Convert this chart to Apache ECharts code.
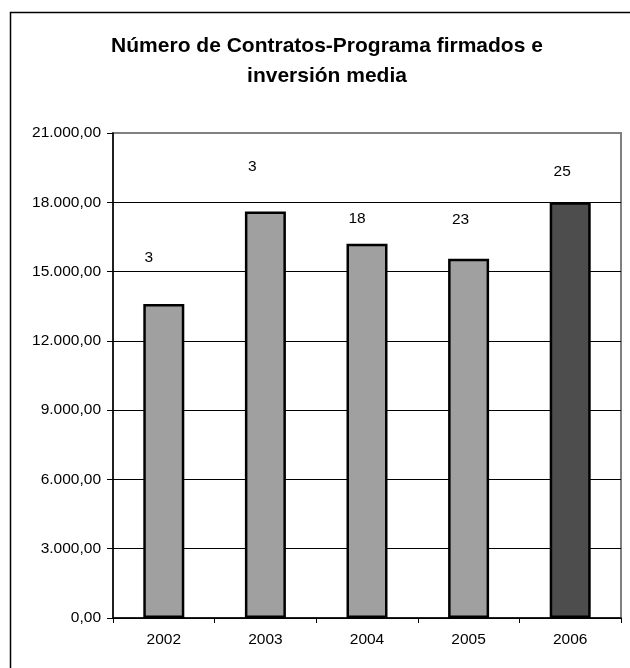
<!DOCTYPE html>
<html>
<head>
<meta charset="utf-8">
<script src="https://cdn.jsdelivr.net/npm/echarts@6/dist/echarts.min.js"></script>
<style>
html,body{margin:0;padding:0;background:#fff;}
#c{width:630px;height:668px;}
</style>
</head>
<body>
<div id="c"></div>
<script>
var years = ['2002', '2003', '2004', '2005', '2006'];
var inversionMedia = [13600, 17600, 16200, 15550, 18000];
var numContratos = [3, 3, 18, 23, 25];
var yTicks = [0, 3000, 6000, 9000, 12000, 15000, 18000, 21000];

var labelOffsets = [[-15, -33], [-13, -32], [-10, -12], [-8, -26], [-8, -18]];
var fills = ['#a0a0a0', '#a0a0a0', '#a0a0a0', '#a0a0a0', '#4d4d4d'];

function fmtEs(v) {
  var s = Math.round(v).toString().replace(/\B(?=(\d{3})+(?!\d))/g, '.');
  return s + ',00';
}

var FONT = '"Liberation Sans", Arial, sans-serif';
var FS = 15.5;
var chart = echarts.init(document.getElementById('c'), null, {renderer: 'canvas'});

var barData = inversionMedia.map(function (v, i) {
  return {
    value: v,
    itemStyle: {color: fills[i]},
    label: {offset: labelOffsets[i]}
  };
});

chart.setOption({
  backgroundColor: '#fff',
  animation: false,
  textStyle: {fontFamily: FONT},
  title: {
    text: 'Número de Contratos-Programa firmados e\ninversión media',
    left: 322,
    top: 26,
    textAlign: 'center',
    textStyle: {fontFamily: FONT, fontSize: 21, fontWeight: 'bold', color: '#000', lineHeight: 30}
  },
  graphic: [{
    type: 'rect',
    shape: {x: 10.5, y: 12.5, width: 700, height: 700},
    style: {fill: 'none', stroke: '#000', lineWidth: 1.5},
    silent: true,
    z: -10
  }],
  grid: {
    left: 113, right: 9, top: 133, bottom: 50,
    show: true, borderColor: '#808080', borderWidth: 2, backgroundColor: 'transparent'
  },
  xAxis: {
    type: 'category',
    data: years,
    axisLine: {lineStyle: {color: '#000', width: 1.5}},
    axisTick: {show: true, length: 5, alignWithLabel: false, lineStyle: {color: '#000'}},
    axisLabel: {color: '#000', fontSize: FS, fontFamily: FONT, margin: 14}
  },
  yAxis: {
    type: 'value',
    min: yTicks[0],
    max: yTicks[yTicks.length - 1],
    interval: yTicks[1] - yTicks[0],
    axisLine: {show: true, lineStyle: {color: '#000', width: 1.5}},
    axisTick: {show: true, length: 6, lineStyle: {color: '#000'}},
    axisLabel: {color: '#000', fontSize: FS, fontFamily: FONT, margin: 12, formatter: fmtEs},
    splitLine: {show: true, showMaxLine: false, lineStyle: {color: '#000', width: 1}}
  },
  series: [{
    type: 'bar',
    data: barData,
    barWidth: 41,
    itemStyle: {borderColor: '#000', borderWidth: 2.5},
    label: {
      show: true,
      position: 'top',
      color: '#000',
      fontSize: FS,
      fontFamily: FONT,
      formatter: function (p) { return String(numContratos[p.dataIndex]); }
    }
  }]
});
</script>
</body>
</html>
